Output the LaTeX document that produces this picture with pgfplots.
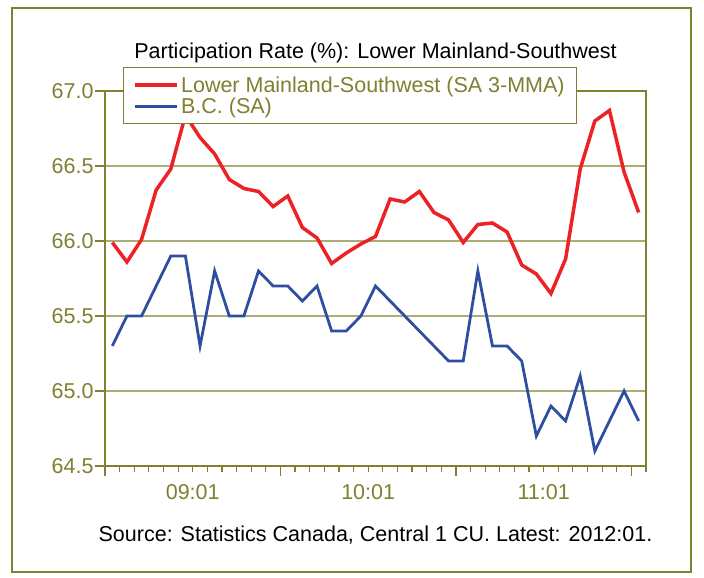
\documentclass[border=0pt]{standalone}
\usepackage{pgfplots}
\pgfplotsset{compat=1.18}
\usepackage{fontspec}
\setmainfont{Liberation Sans}
\definecolor{olivec}{RGB}{128,128,48}
\definecolor{gridc}{RGB}{172,172,118}
\definecolor{redc}{RGB}{236,34,39}
\definecolor{bluec}{RGB}{46,78,160}
\newcommand{\fs}{\fontsize{21.5}{24}\selectfont}

\begin{document}
\begin{tikzpicture}[x=1pt,y=1pt]
\path (0,0) rectangle (704,578);
\draw[olivec, line width=2.5pt] (12,6) rectangle (691,570);
\node[font=\fs] at (375.5,525) {Participation Rate (\%): Lower Mainland-Southwest};
\node[font=\fs] at (375.5,43) {Source: Statistics Canada, Central 1 CU. Latest: 2012:01.};
\begin{axis}[
    at={(105pt,112pt)}, anchor=south west,
    scale only axis, width=541pt, height=375pt,
    xmin=-0.5, xmax=36.5, ymin=64.5, ymax=67.0,
    axis line style={olivec, line width=2pt},
    tick style={olivec, line width=1.2pt},
    tick align=outside,
    xtick pos=bottom, ytick pos=left,
    xtick={-0.5,11.5,23.5,35.5}, xticklabels={},
    minor xtick={0.5,1.5,...,36.5},
    major tick length=10pt, minor tick length=6pt,
    extra x ticks={5.5,17.5,29.5},
    extra x tick labels={09:01,10:01,11:01},
    extra x tick style={major tick length=0pt},
    xticklabel style={olivec, font=\fs, yshift=-15pt},
    ytick={64.5,65,65.5,66,66.5,67},
    yticklabel style={olivec, font=\fs, xshift=2pt,
        /pgf/number format/.cd, fixed, fixed zerofill, precision=1, assume math mode=true},
    ymajorgrids, major grid style={gridc, line width=1.1pt},
    legend style={at={(0.0333,1.064)}, anchor=north west,
        draw=olivec, line width=1.2pt, fill=white,
        text=olivec, font=\fs, inner xsep=10pt, inner ysep=7pt},
    legend cell align=left,
    legend image code/.code={\draw[#1] (0pt,0pt) -- (42pt,0pt);},
]
\addplot[redc, line width=3.5pt] coordinates {
(0,65.99)(1,65.86)(2,66.01)(3,66.34)(4,66.48)(5,66.84)(6,66.69)(7,66.58)
(8,66.41)(9,66.35)(10,66.33)(11,66.23)(12,66.30)(13,66.09)(14,66.02)(15,65.85)
(16,65.92)(17,65.98)(18,66.03)(19,66.28)(20,66.26)(21,66.33)(22,66.19)(23,66.14)
(24,65.99)(25,66.11)(26,66.12)(27,66.06)(28,65.84)(29,65.78)(30,65.65)(31,65.88)
(32,66.48)(33,66.80)(34,66.87)(35,66.46)(36,66.19)
};
\addlegendentry{Lower Mainland-Southwest (SA 3-MMA)}
\addplot[bluec, line width=2.8pt] coordinates {
(0,65.3)(1,65.5)(2,65.5)(3,65.7)(4,65.9)(5,65.9)(6,65.3)(7,65.8)
(8,65.5)(9,65.5)(10,65.8)(11,65.7)(12,65.7)(13,65.6)(14,65.7)(15,65.4)
(16,65.4)(17,65.5)(18,65.7)(19,65.6)(20,65.5)(21,65.4)(22,65.3)(23,65.2)
(24,65.2)(25,65.8)(26,65.3)(27,65.3)(28,65.2)(29,64.7)(30,64.9)(31,64.8)
(32,65.1)(33,64.6)(34,64.8)(35,65.0)(36,64.8)
};
\addlegendentry{B.C. (SA)}
\end{axis}
\end{tikzpicture}
\end{document}
